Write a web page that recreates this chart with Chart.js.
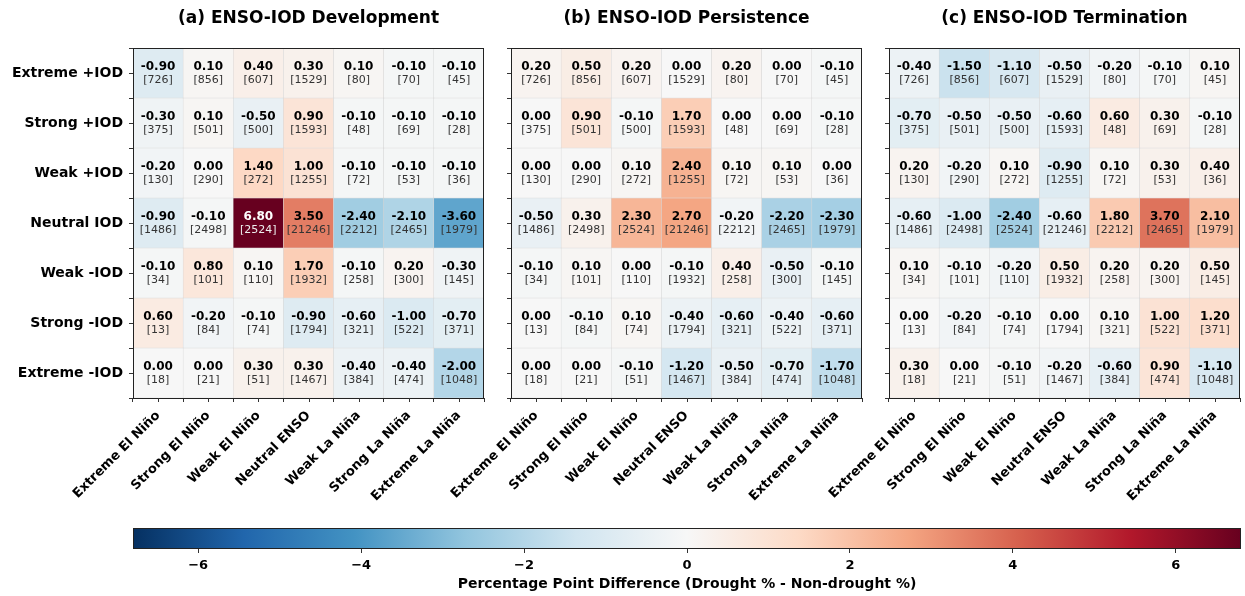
<!DOCTYPE html>
<html>
<head>
<meta charset="utf-8">
<script src="https://cdn.jsdelivr.net/npm/chart.js@4.4.0/dist/chart.umd.min.js"></script>
<style>
  html, body { margin: 0; padding: 0; background: #fff; }
  #wrap { position: relative; width: 1245px; height: 596px; overflow: hidden; background: #fff; }
  canvas { position: absolute; }
</style>
</head>
<body>
<div id="wrap">
  <canvas id="panelA" width="488" height="520" style="left:0;top:0"></canvas>
  <canvas id="panelB" width="488" height="520" style="left:378px;top:0"></canvas>
  <canvas id="panelC" width="488" height="520" style="left:756px;top:0"></canvas>
  <canvas id="cbar" width="1245" height="96" style="left:0;top:500px"></canvas>
</div>
<script>
// --- data ---
const ensoLabels = ['Extreme El Niño', 'Strong El Niño', 'Weak El Niño', 'Neutral ENSO',
                    'Weak La Niña', 'Strong La Niña', 'Extreme La Niña'];
const iodLabels = ['Extreme +IOD', 'Strong +IOD', 'Weak +IOD', 'Neutral IOD',
                   'Weak -IOD', 'Strong -IOD', 'Extreme -IOD'];

// sample counts, same for every panel (rows = IOD, cols = ENSO)
const counts = [
  [726, 856, 607, 1529, 80, 70, 45],
  [375, 501, 500, 1593, 48, 69, 28],
  [130, 290, 272, 1255, 72, 53, 36],
  [1486, 2498, 2524, 21246, 2212, 2465, 1979],
  [34, 101, 110, 1932, 258, 300, 145],
  [13, 84, 74, 1794, 321, 522, 371],
  [18, 21, 51, 1467, 384, 474, 1048]
];

const developmentDiff = [
  [-0.9, 0.1, 0.4, 0.3, 0.1, -0.1, -0.1],
  [-0.3, 0.1, -0.5, 0.9, -0.1, -0.1, -0.1],
  [-0.2, 0.0, 1.4, 1.0, -0.1, -0.1, -0.1],
  [-0.9, -0.1, 6.8, 3.5, -2.4, -2.1, -3.6],
  [-0.1, 0.8, 0.1, 1.7, -0.1, 0.2, -0.3],
  [0.6, -0.2, -0.1, -0.9, -0.6, -1.0, -0.7],
  [0.0, 0.0, 0.3, 0.3, -0.4, -0.4, -2.0]
];
const persistenceDiff = [
  [0.2, 0.5, 0.2, 0.0, 0.2, 0.0, -0.1],
  [0.0, 0.9, -0.1, 1.7, 0.0, 0.0, -0.1],
  [0.0, 0.0, 0.1, 2.4, 0.1, 0.1, 0.0],
  [-0.5, 0.3, 2.3, 2.7, -0.2, -2.2, -2.3],
  [-0.1, 0.1, 0.0, -0.1, 0.4, -0.5, -0.1],
  [0.0, -0.1, 0.1, -0.4, -0.6, -0.4, -0.6],
  [0.0, 0.0, -0.1, -1.2, -0.5, -0.7, -1.7]
];
const terminationDiff = [
  [-0.4, -1.5, -1.1, -0.5, -0.2, -0.1, 0.1],
  [-0.7, -0.5, -0.5, -0.6, 0.6, 0.3, -0.1],
  [0.2, -0.2, 0.1, -0.9, 0.1, 0.3, 0.4],
  [-0.6, -1.0, -2.4, -0.6, 1.8, 3.7, 2.1],
  [0.1, -0.1, -0.2, 0.5, 0.2, 0.2, 0.5],
  [0.0, -0.2, -0.1, 0.0, 0.1, 1.0, 1.2],
  [0.3, 0.0, -0.1, -0.2, -0.6, 0.9, -1.1]
];

const colorLimit = 6.8;
const cbarTicks = [-6, -4, -2, 0, 2, 4, 6];

// RdBu_r
const rdbuR = ['#053061', '#2166ac', '#4393c3', '#92c5de', '#d1e5f0', '#f7f7f7',
               '#fddbc7', '#f4a582', '#d6604d', '#b2182b', '#67001f'];

Chart.defaults.font.family = '"DejaVu Sans", sans-serif';

function hexToRgb(h) {
  return [parseInt(h.slice(1, 3), 16), parseInt(h.slice(3, 5), 16), parseInt(h.slice(5, 7), 16)];
}
function cmap(v) {
  let t = (v + colorLimit) / (2 * colorLimit);
  t = Math.max(0, Math.min(1, t));
  const pos = t * (rdbuR.length - 1);
  const i = Math.min(Math.floor(pos), rdbuR.length - 2);
  const f = pos - i;
  const a = hexToRgb(rdbuR[i]), b = hexToRgb(rdbuR[i + 1]);
  const c = a.map((x, k) => Math.round(x + (b[k] - x) * f));
  return `rgb(${c[0]},${c[1]},${c[2]})`;
}

// frame + center ticks + cell annotations
const heatPlugin = {
  id: 'heatPlugin',
  afterDatasetsDraw(chart, args, opts) {
    const ctx = chart.ctx;
    const vals = opts.values;
    chart.data.datasets.forEach((ds, r) => {
      chart.getDatasetMeta(r).data.forEach((bar, c) => {
        const p = bar.getProps(['x', 'y', 'base'], true);
        const cy = (p.y + p.base) / 2;
        const v = vals[r][c];
        const light = Math.abs(v) > 4.5;
        ctx.save();
        ctx.textAlign = 'center';
        ctx.textBaseline = 'middle';
        ctx.fillStyle = light ? '#fff' : '#000';
        ctx.font = 'bold 12px "DejaVu Sans"';
        ctx.fillText(v.toFixed(2), p.x, cy - 6.5);
        ctx.fillStyle = light ? '#eee' : '#333';
        ctx.font = '11px "DejaVu Sans"';
        ctx.fillText('[' + counts[r][c] + ']', p.x, cy + 7);
        ctx.restore();
      });
    });
  },
  afterDraw(chart) {
    const ctx = chart.ctx;
    const a = chart.chartArea;
    const xs = chart.scales.x;
    ctx.save();
    ctx.strokeStyle = '#222';
    ctx.lineWidth = 1;
    ctx.strokeRect(Math.round(a.left) + 0.5, Math.round(a.top) + 0.5,
                   Math.round(a.right - a.left) - 1, Math.round(a.bottom - a.top));
    ctx.strokeStyle = '#333';
    ctx.beginPath();
    ensoLabels.forEach((l, i) => {
      const x = Math.round(xs.getPixelForValue(i)) + 0.5;
      ctx.moveTo(x, a.bottom);
      ctx.lineTo(x, a.bottom + 4);
    });
    ctx.stroke();
    ctx.restore();
  }
};

const yTickVals = [];
iodLabels.forEach((l, i) => { yTickVals.push(i, i + 0.5); });
yTickVals.push(iodLabels.length);

function makePanel(id, title, values, showY) {
  const datasets = values.map((row, r) => ({
    data: row.map(() => [r, r + 1]),
    backgroundColor: row.map(cmap),
    borderColor: '#d6d6d6',
    borderWidth: 0.5,
    borderSkipped: false,
    grouped: false,
    barPercentage: 1,
    categoryPercentage: 1
  }));
  return new Chart(document.getElementById(id), {
    type: 'bar',
    data: { labels: ensoLabels, datasets },
    options: {
      responsive: false,
      animation: false,
      devicePixelRatio: 1,
      layout: { padding: { left: 0, right: 4, top: 0, bottom: 0 } },
      plugins: {
        legend: { display: false },
        tooltip: { enabled: false },
        title: {
          display: true, text: title, fullSize: false, color: '#000',
          font: { size: 17, weight: 'bold' },
          padding: { top: 8, bottom: 19.6 }
        },
        heatPlugin: { values }
      },
      scales: {
        x: {
          type: 'category',
          offset: true,
          grid: { offset: true, drawOnChartArea: false, tickLength: 4, color: '#333' },
          border: { display: false },
          ticks: { autoSkip: false, minRotation: 45, maxRotation: 45, color: '#000',
                   font: { size: 13, weight: 'bold' }, padding: 6 },
          afterFit: s => { s.height = 122; }
        },
        y: {
          type: 'linear', min: 0, max: iodLabels.length, reverse: true,
          afterBuildTicks: s => { s.ticks = yTickVals.map(v => ({ value: v })); },
          afterFit: s => { s.width = 133; },
          grid: { drawOnChartArea: false, tickLength: 4, color: '#333' },
          border: { display: false },
          ticks: {
            autoSkip: false, color: '#000', padding: 6,
            font: { size: 14, weight: 'bold' },
            callback: v => (showY && v % 1 === 0.5) ? iodLabels[Math.floor(v)] : ''
          }
        }
      }
    },
    plugins: [heatPlugin]
  });
}

makePanel('panelA', '(a) ENSO-IOD Development', developmentDiff, true);
makePanel('panelB', '(b) ENSO-IOD Persistence', persistenceDiff, false);
makePanel('panelC', '(c) ENSO-IOD Termination', terminationDiff, false);

// colorbar
const frameOnly = {
  id: 'frameOnly',
  afterDraw(chart) {
    const a = chart.chartArea, ctx = chart.ctx;
    ctx.save();
    ctx.strokeStyle = '#222';
    ctx.lineWidth = 1;
    ctx.strokeRect(Math.round(a.left) + 0.5, Math.round(a.top) + 0.5,
                   Math.round(a.right - a.left) - 1, Math.round(a.bottom - a.top) - 1);
    ctx.restore();
  }
};

new Chart(document.getElementById('cbar'), {
  type: 'bar',
  data: {
    labels: [''],
    datasets: [{
      data: [[-colorLimit, colorLimit]],
      backgroundColor: (c) => {
        const a = c.chart.chartArea;
        if (!a) return '#f7f7f7';
        const g = c.chart.ctx.createLinearGradient(a.left, 0, a.right, 0);
        rdbuR.forEach((col, i) => g.addColorStop(i / (rdbuR.length - 1), col));
        return g;
      },
      borderWidth: 0,
      barPercentage: 1,
      categoryPercentage: 1
    }]
  },
  options: {
    indexAxis: 'y',
    responsive: false,
    animation: false,
    devicePixelRatio: 1,
    layout: { padding: { left: 133, right: 4, top: 28, bottom: 0 } },
    plugins: { legend: { display: false }, tooltip: { enabled: false } },
    scales: {
      y: { display: false },
      x: {
        type: 'linear', min: -colorLimit, max: colorLimit,
        afterBuildTicks: s => { s.ticks = cbarTicks.map(v => ({ value: v })); },
        afterFit: s => { s.height = 47; },
        grid: { drawOnChartArea: false, tickLength: 4, color: '#333' },
        border: { display: false },
        ticks: {
          maxRotation: 0, color: '#000', padding: 5,
          font: { size: 13, weight: 'bold' },
          callback: v => v < 0 ? '\u2212' + Math.abs(v) : String(v)
        },
        title: {
          display: true, color: '#000',
          text: 'Percentage Point Difference (Drought % - Non-drought %)',
          font: { size: 14, weight: 'bold' },
          padding: { top: 3, bottom: 3 }
        }
      }
    }
  },
  plugins: [frameOnly]
});
</script>
</body>
</html>
